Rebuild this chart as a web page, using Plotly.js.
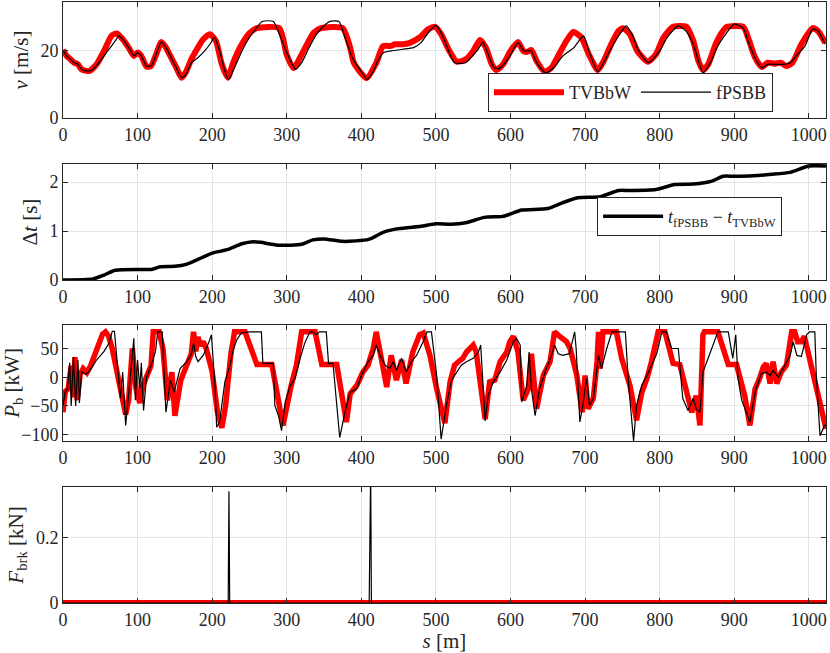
<!DOCTYPE html>
<html>
<head>
<meta charset="utf-8">
<script src="https://cdn.plot.ly/plotly-3.0.1.min.js"></script>
<style>
  html, body { margin: 0; padding: 0; background: #fff; }
  #myDiv { width: 830px; height: 653px; }
</style>
</head>
<body>
<div id="myDiv"></div>
<script>
// Geschwindigkeit v [m/s] über Weg s [m]
const sV_tvbbw = [0,5,10,15,20,25,35,45,55,65,72,80,88,95,100,105,112,118,125,132,138,145,152,159,165,172,179,188,197,205,213,221,228,237,250,260,290,300,309,322,336,346,375,385,390,407,420,429,440,445,455,465,478,490,499,507,518,528,540,550,559,567,575,581,590,600,610,617,622,628,635,646,655,665,675,684,695,705,717,725,735,745,751,760,770,784,795,805,818,836,845,852,858,865,875,885,890,912,920,928,937,945,955,962,970,978,990,1005,1012,1022];
const v_tvbbw  = [20.3,18.5,17.5,16.5,16,14.5,14,16,20,24.5,25.2,23.5,21,18.5,19.5,18.5,15.3,15.5,19,22.7,21,18,15,12,13.8,17.5,20.3,23.5,25,23,16,12,16.4,20.9,25.3,26.8,26.8,18.8,14.9,19.8,25.4,26.8,26.8,21,16.4,11.9,16.4,21.4,21.5,22,22,22.4,24,26.5,27.2,25,20,16.8,17.5,20,23.3,21,16,14.3,16,20,22.7,20,19.7,20.3,17,13.8,15,19,23,25.7,24,19,14.3,17,22,26,26.8,25,20,16.8,19,24,27.2,27.2,23,17,14.3,16,22,26,27.2,27.2,23,18,15.2,16.5,16.2,16.5,15.5,16.5,22,26.8,26,22.4];

const sV_fpsbb = [0,5,10,15,20,25,35,40,50,60,70,75,80,88,95,100,105,112,118,125,132,138,145,152,159,165,172,180,190,197,203,210,217,222,230,240,250,260,267,282,290,300,312,320,330,340,350,358,370,378,388,398,408,415,422,430,440,455,470,480,490,500,508,518,525,540,555,563,570,578,585,598,610,618,623,628,635,647,660,670,685,698,705,717,726,738,748,755,763,772,785,800,810,825,835,845,852,858,868,878,890,900,912,920,930,937,945,955,965,975,985,995,1005,1012,1022];
const v_fpsbb  = [20.3,18.5,17.5,16.5,16,14.5,14,14.5,17,20,23,24.5,23.5,21,18.5,19.5,18.5,15.5,15.5,19,22.7,21,18,15,12,13,16.5,17.8,20,22,24,20,14,11.5,15,20,24,27,28.8,28.8,25,19.5,14.5,16.5,21,25,27.5,28.8,28.8,24,18,14.5,11.5,13.5,17,19.5,20,20.5,21,22.5,25.5,27.6,25,19.5,16.5,16.5,20,22.5,19,15,14.8,18,22.5,20,20,20,16.5,13.5,15.5,18.5,21,24.5,20,13.8,17,22,25.5,27.5,25,20,16.5,20,24,27.5,26,22,17,13.5,16.5,21.5,25.5,28,26.8,22,17,15,16,16,16,16.5,19,21.5,26.5,26,22];

// Zeitdifferenz
const sDt = [0,40,55,70,120,130,150,165,185,200,220,240,255,265,290,320,335,350,375,410,430,450,480,500,520,540,565,590,600,615,650,670,690,720,745,760,795,820,845,870,885,900,925,950,975,1000,1023];
const dt  = [0,0.02,0.1,0.2,0.22,0.27,0.28,0.32,0.45,0.55,0.62,0.74,0.78,0.77,0.71,0.73,0.82,0.84,0.79,0.83,0.98,1.05,1.1,1.15,1.14,1.17,1.28,1.3,1.35,1.43,1.46,1.58,1.68,1.7,1.83,1.83,1.85,1.95,1.96,2.02,2.12,2.12,2.13,2.16,2.2,2.33,2.33];

// Batterieleistung P_b [kW]
const sP_tvbbw = [0,3,7,11,14,16,19,23,27,32,37,43,48,53,57,61,66,75,84,88,93,98,103,107,112,118,121,129,134,140,146,150,158,166,172,175,178,181,184,188,192,200,207,213,218,225,230,244,260,280,295,306,313,320,338,347,367,380,385,394,402,409,416,420,425,434,440,447,454,460,469,478,483,492,501,512,519,525,530,536,541,550,554,566,572,579,586,595,599,604,610,617,624,628,635,644,653,657,659,666,675,680,689,696,700,704,711,716,718,720,724,742,749,760,769,776,783,789,794,798,807,818,827,836,843,849,854,858,860,878,892,903,914,921,928,934,939,943,948,952,957,963,970,977,981,985,990,994,1003,1014,1023];
const p_tvbbw  = [-61,-25,-20,20,-35,35,-40,5,15,8,20,40,58,75,79,72,50,-10,-65,-40,50,-20,-45,-15,0,20,79,79,50,-40,9,-67,-5,24,41,79,45,70,55,62,50,10,-60,-88,-50,40,79,79,22,22,-84,-14,21,79,79,22,22,-78,-29,-14,9,21,50,79,41,-17,38,-5,30,-11,44,74,77,38,-20,-80,-8,21,27,33,44,56,44,-73,-8,-5,27,44,62,71,44,-40,-20,41,-55,3,27,74,79,71,62,50,3,-61,3,-55,-37,27,79,15,79,79,33,-14,-75,-26,-2,27,62,79,79,24,22,-20,-61,-32,-84,74,79,79,22,22,-32,-84,-20,-2,18,24,-11,27,-11,9,21,79,79,62,62,71,21,-43,-90];

const sP_fpsbb = [0,3,6,9,11,14,17,20,22,25,30,35,45,55,62,66,69,72,77,80,84,88,92,95,97,100,103,105,108,112,118,124,127,133,138,144,149,157,166,172,175,178,181,188,195,199,204,206,210,217,224,228,233,239,250,266,268,282,284,289,293,298,304,311,318,324,331,335,340,344,353,356,362,367,371,378,385,394,400,409,416,420,425,432,438,443,447,454,460,467,474,483,488,494,501,507,514,521,528,534,541,550,557,560,566,570,577,586,595,604,608,613,615,622,625,628,633,639,648,655,659,664,670,679,686,688,693,697,702,706,711,718,722,729,736,754,758,765,769,776,783,789,796,803,809,816,825,831,838,845,849,854,858,865,872,878,892,896,898,902,905,910,921,928,936,943,948,952,959,968,975,979,984,990,997,1001,1008,1010,1015,1021,1023];
const p_fpsbb  = [-50,-25,-20,25,-50,35,-50,30,-45,10,5,10,30,45,60,80,80,40,-37,9,-84,-30,30,68,-40,30,-20,25,-58,0,20,45,79,79,-61,-5,-26,15,27,40,59,36,27,38,59,74,-20,-87,-78,-8,21,47,65,77,79,79,24,24,-49,-67,-93,-43,-17,-2,33,59,79,79,74,79,79,24,24,-49,-105,-61,-26,-20,3,27,38,56,38,21,15,27,12,33,9,27,38,62,79,79,3,-108,-49,-5,9,21,27,33,44,56,-76,-32,-8,9,30,62,68,56,-43,-14,44,-20,-67,-20,15,38,56,41,38,41,79,50,-78,-49,-2,-49,-37,38,15,50,79,79,-8,-111,-49,-14,3,21,41,79,79,50,50,-37,-58,-37,-55,-61,9,33,56,79,79,44,33,74,-2,-40,-78,-26,6,9,3,12,0,21,38,62,38,36,74,79,79,3,-102,-84,-84];

// Bremskraft F_brk [kN]
const sF_tvbbw = [0,1023];
const f_tvbbw  = [0,0];
const sF_fpsbb = [0,221.5,222.5,223.5,410.5,411.5,412.5,413.5,1023];
const f_fpsbb  = [0,0,0.34,0,0,0.4,0.4,0,0];

const RED = '#ff0000';
const BLK = '#000000';
const AX = '#262626';
const GRID = '#e3e3e3';
const FONT = '"Liberation Serif", serif';

function xAxis(anchor, withTitle) {
    let ax = {
        anchor: anchor,
        range: [0, 1023],
        tickvals: [0,100,200,300,400,500,600,700,800,900,1000],
        ticks: 'inside',
        ticklen: 5,
        tickcolor: AX,
        showline: true,
        linecolor: AX,
        linewidth: 1,
        mirror: 'ticks',
        showgrid: true,
        gridcolor: GRID,
        zeroline: false,
        tickfont: { family: FONT, size: 18, color: AX },
        fixedrange: true
    };
    if (withTitle) {
        ax.title = { text: '<i>s</i> [m]', font: { family: FONT, size: 21, color: AX }, standoff: 4 };
    }
    return ax;
}

function yAxis(anchor, domain, range, tickvals, title) {
    return {
        anchor: anchor,
        domain: domain,
        range: range,
        tickvals: tickvals,
        ticks: 'inside',
        ticklen: 5,
        tickcolor: AX,
        showline: true,
        linecolor: AX,
        linewidth: 1,
        mirror: 'ticks',
        showgrid: true,
        gridcolor: GRID,
        zeroline: false,
        tickfont: { family: FONT, size: 18, color: AX },
        title: { text: title, font: { family: FONT, size: 21, color: AX }, standoff: 6 },
        fixedrange: true
    };
}

let traces = [
    { x: sV_tvbbw, y: v_tvbbw, xaxis: 'x', yaxis: 'y', mode: 'lines', name: 'TVBbW',
      line: { color: RED, width: 6, shape: 'spline', smoothing: 0.6 }, legend: 'legend', hoverinfo: 'none' },
    { x: sV_fpsbb, y: v_fpsbb, xaxis: 'x', yaxis: 'y', mode: 'lines', name: 'fPSBB',
      line: { color: BLK, width: 1.2, shape: 'spline', smoothing: 0.6 }, legend: 'legend', hoverinfo: 'none' },
    { x: sDt, y: dt, xaxis: 'x2', yaxis: 'y2', mode: 'lines',
      name: '<i>t</i><sub>fPSBB</sub> − <i>t</i><sub>TVBbW</sub>',
      line: { color: BLK, width: 3.5, shape: 'spline', smoothing: 0.6 }, legend: 'legend2', hoverinfo: 'none' },
    { x: sP_tvbbw, y: p_tvbbw, xaxis: 'x3', yaxis: 'y3', mode: 'lines', showlegend: false,
      line: { color: RED, width: 5.5 }, hoverinfo: 'none' },
    { x: sP_fpsbb, y: p_fpsbb, xaxis: 'x3', yaxis: 'y3', mode: 'lines', showlegend: false,
      line: { color: BLK, width: 1.2 }, hoverinfo: 'none' },
    { x: sF_tvbbw, y: f_tvbbw, xaxis: 'x4', yaxis: 'y4', mode: 'lines', showlegend: false,
      line: { color: RED, width: 6 }, hoverinfo: 'none' },
    { x: sF_fpsbb, y: f_fpsbb, xaxis: 'x4', yaxis: 'y4', mode: 'lines', showlegend: false,
      line: { color: BLK, width: 1.2 }, hoverinfo: 'none' }
];

let layout = {
    width: 830,
    height: 653,
    paper_bgcolor: '#ffffff',
    plot_bgcolor: '#ffffff',
    margin: { l: 63, r: 4, t: 2, b: 50 },
    font: { family: FONT, color: AX },
    xaxis: xAxis('y', false),
    xaxis2: xAxis('y2', false),
    xaxis3: xAxis('y3', false),
    xaxis4: xAxis('y4', true),
    yaxis: yAxis('x', [0.807, 1], [0, 34.6], [0, 20], '<i>v</i> [m/s]'),
    yaxis2: yAxis('x2', [0.5374, 0.7304], [0, 2.37], [0, 1, 2], 'Δ<i>t</i> [s]'),
    yaxis3: yAxis('x3', [0.2696, 0.4626], [-111, 91], [-100, -50, 0, 50], '<i>P</i><sub>b</sub> [kW]'),
    yaxis4: yAxis('x4', [0, 0.193], [0, 0.353], [0, 0.2], '<i>F</i><sub>brk</sub> [kN]'),
    legend: {
        x: 0.557, y: 0.817, xanchor: 'left', yanchor: 'bottom',
        orientation: 'h',
        bgcolor: '#ffffff', bordercolor: AX, borderwidth: 1,
        font: { family: FONT, size: 18, color: AX },
        itemwidth: 70
    },
    legend2: {
        x: 0.70, y: 0.6106, xanchor: 'left', yanchor: 'bottom',
        bgcolor: '#ffffff', bordercolor: AX, borderwidth: 1,
        font: { family: FONT, size: 18, color: AX },
        itemwidth: 60
    },
    showlegend: true
};

Plotly.newPlot('myDiv', traces, layout, { displayModeBar: false, staticPlot: true });
</script>
</body>
</html>
